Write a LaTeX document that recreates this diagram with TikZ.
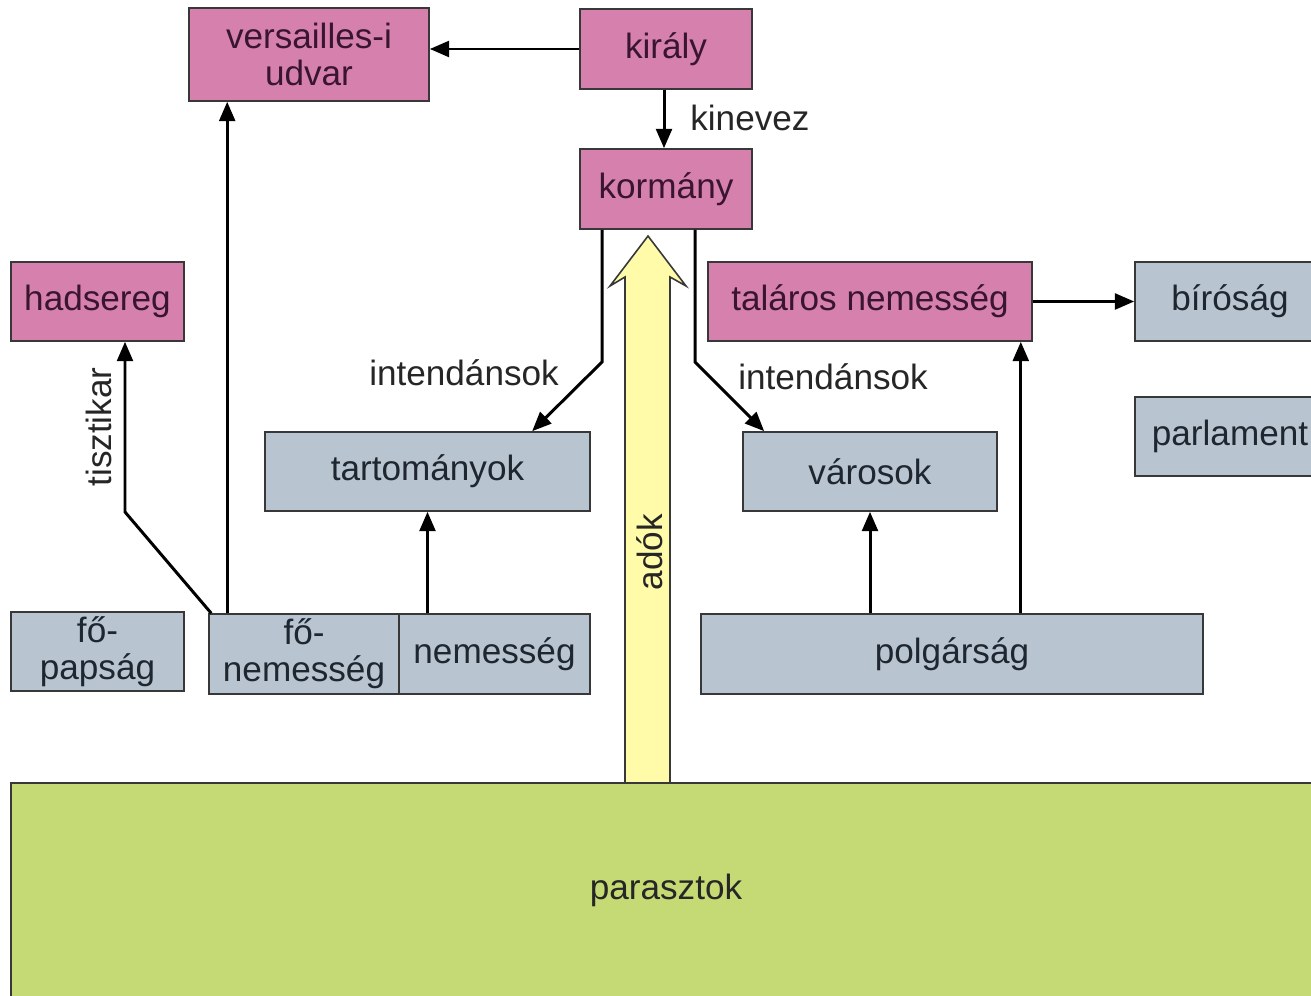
\documentclass[tikz,border=0pt]{standalone}
\usepackage{fontspec}
\setmainfont{Liberation Sans}
\usetikzlibrary{arrows.meta}
\definecolor{pinkc}{HTML}{D681AD}
\definecolor{greyc}{HTML}{B8C5D1}
\definecolor{greenc}{HTML}{C5DA74}
\definecolor{yelc}{HTML}{FFFBA8}
\definecolor{edgec}{HTML}{383838}
\definecolor{pinktext}{HTML}{3A1530}
\definecolor{greytext}{HTML}{1E2630}
\newcommand\bx[7]{%
 \pgfmathsetmacro\cx{(#2+#4)/2}\pgfmathsetmacro\cy{(#3+#5)/2}%
 \pgfmathsetmacro\ww{(#4-#2)*0.02}\pgfmathsetmacro\hh{(#5-#3)*0.02}%
 \node[#6, minimum width=\ww cm, minimum height=\hh cm] (#1) at (\cx,\cy) {#7};}
\tikzset{
 basebox/.style={draw=edgec, line width=0.9pt, inner sep=0pt, align=center, font=\fontsize{20}{21}\selectfont},
 pinkbox/.style={basebox, fill=pinkc, text=pinktext},
 greybox/.style={basebox, fill=greyc, text=greytext},
 greenbox/.style={basebox, fill=greenc, text=black!85},
 arr/.style={line width=1.7pt, -{Triangle[length=11pt,width=9pt]}},
 lbl/.style={font=\fontsize{20}{21}\selectfont, text=black!85, inner sep=0pt}
}
\begin{document}
\begin{tikzpicture}[x=0.02cm, y=-0.02cm]
\useasboundingbox (0,0) rectangle (1311,996);
\clip (0,0) rectangle (1311,996);
\fill[white] (0,0) rectangle (1311,996);
% big tax arrow
\draw[fill=yelc, draw=edgec, line width=0.9pt, line join=miter] (625,783) -- (625,277) -- (610,286) -- (648,236) -- (686,286) -- (670,277) -- (670,783);
\node[lbl, rotate=90] (adok) at (650,552) {adók};
% boxes
\bx{versailles}{189}{8}{429}{101}{pinkbox}{versailles-i\\udvar}
\bx{kiraly}{580}{9}{752}{89}{pinkbox}{király}
\bx{kormany}{580}{149}{752}{229}{pinkbox}{kormány}
\bx{hadsereg}{11}{262}{184}{341}{pinkbox}{hadsereg}
\bx{talaros}{708}{262}{1032}{341}{pinkbox}{taláros nemesség}
\bx{birosag}{1135}{262}{1325}{341}{greybox}{bíróság}
\bx{parlament}{1135}{397}{1325}{476}{greybox}{parlament}
\bx{tart}{265}{432}{590}{511}{greybox}{tartományok}
\bx{varosok}{743}{432}{997}{511}{greybox}{városok}
\bx{fopap}{11}{612}{184}{691}{greybox}{fő-\\papság}
\bx{fonem}{209}{614}{399}{694}{greybox}{fő-\\nemesség}
\bx{nemes}{399}{614}{590}{694}{greybox}{nemesség}
\bx{polg}{701}{614}{1203}{694}{greybox}{polgárság}
\bx{paraszt}{11}{783}{1330}{1010}{greenbox}{}
\node[lbl] (parasztlbl) at (666,890) {parasztok};
% connectors
\draw[arr] (kiraly.west) -- (kiraly.west -| versailles.east);
\draw[arr] ([xshift=-0.04cm]kiraly.south) -- ([xshift=-0.04cm]kormany.north);
\node[lbl, anchor=west] (kinevez) at (690,118) {kinevez};
\coordinate (kl) at (602,362);
\coordinate (kr) at (695,362);
\draw[arr, line join=miter] (kormany.south -| kl) -- (kl) -- ([xshift=5.36cm]tart.north west);
\draw[arr, line join=miter] (kormany.south -| kr) -- (kr) -- ([xshift=0.44cm]varosok.north west);
\node[lbl] (int1) at (464,373) {intendánsok};
\node[lbl] (int2) at (833,377) {intendánsok};
\draw[arr] ([xshift=0.38cm]fonem.north west) -- ([xshift=0.38cm]fonem.north west |- versailles.south);
\coordinate (tb) at (125,512);
\draw[arr, line join=miter] ([xshift=0.06cm]fonem.north west) -- (tb) -- (tb |- hadsereg.south);
\node[lbl, rotate=90] (tisztikar) at (99,427) {tisztikar};
\draw[arr] (tart.south |- nemes.north) -- (tart.south);
\draw[arr] (varosok.south |- polg.north) -- (varosok.south);
\draw[arr] ([xshift=-0.24cm]talaros.south east |- polg.north) -- ([xshift=-0.24cm]talaros.south east);
\draw[arr] (talaros.east) -- (talaros.east -| birosag.west);
\end{tikzpicture}
\end{document}
